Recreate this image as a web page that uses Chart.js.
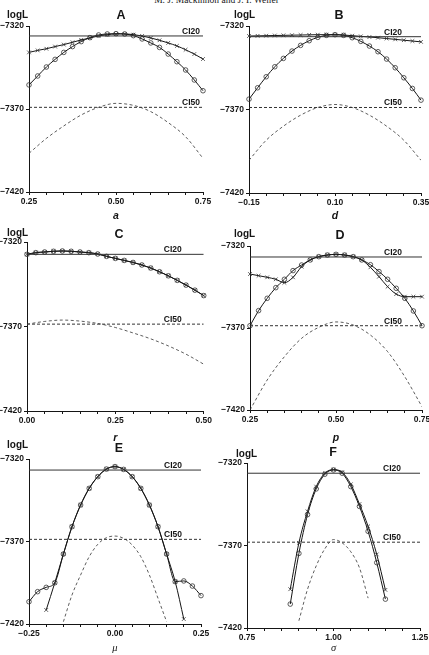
<!DOCTYPE html>
<html>
<head>
<meta charset="utf-8">
<script src="https://cdn.jsdelivr.net/npm/chart.js@4.4.1/dist/chart.umd.min.js"></script>
<style>
  html, body { margin: 0; padding: 0; background: #fff; overflow: hidden; }
  body { width: 429px; height: 655px; position: relative; }
  canvas { position: absolute; }
  #head { position: absolute; left: 0; top: -4px; width: 433px; text-align: center;
          font-family: 'Liberation Serif', 'DejaVu Serif', serif; font-size: 9.5px; line-height: 1; color: #222; }
</style>
</head>
<body>
<div id="head">M. J. Mackinnon and J. I. Weller</div>
<canvas id="pA"></canvas>
<canvas id="pB"></canvas>
<canvas id="pC"></canvas>
<canvas id="pD"></canvas>
<canvas id="pE"></canvas>
<canvas id="pF"></canvas>
<script>
// ---- data (logL profiles) ----
// A : parameter a
const aGrid = [0.25,0.275,0.3,0.325,0.35,0.375,0.4,0.425,0.45,0.475,0.5,0.525,0.55,0.575,0.6,0.625,0.65,0.675,0.7,0.725,0.75];
const aCircles = [-7355.5,-7350.1,-7344.7,-7340.1,-7335.9,-7332.4,-7329.4,-7327.0,-7325.4,-7324.8,-7324.6,-7324.8,-7325.8,-7327.8,-7330.2,-7332.9,-7336.9,-7341.5,-7346.5,-7352.5,-7359.0];
const aCrosses = [-7335.9,-7334.7,-7333.7,-7332.4,-7331.2,-7329.8,-7328.4,-7327.2,-7326.0,-7325.2,-7324.8,-7324.8,-7325.2,-7326.0,-7327.2,-7328.6,-7330.2,-7332.0,-7334.3,-7336.9,-7339.9];
const aDashGrid = [0.25,0.3,0.35,0.4,0.45,0.5,0.55,0.6,0.65,0.7,0.75];
const aDash = [-7396.7,-7387.7,-7380.2,-7373.6,-7369.0,-7366.6,-7367.8,-7371.6,-7378.2,-7386.7,-7399.7];
const aLevels = [-7326.0, -7369.0];   // CI20, CI50

// B : parameter d
const bGrid = [-0.15,-0.125,-0.1,-0.075,-0.05,-0.025,0,0.025,0.05,0.075,0.1,0.125,0.15,0.175,0.2,0.225,0.25,0.275,0.3,0.325,0.35];
const bCircles = [-7363.8,-7357.0,-7350.4,-7344.4,-7339.4,-7335.0,-7331.6,-7328.8,-7326.8,-7325.6,-7325.2,-7325.6,-7327.0,-7329.2,-7332.0,-7335.4,-7339.8,-7345.0,-7351.0,-7357.4,-7364.4];
const bCrosses = [-7326.0,-7325.9,-7325.8,-7325.7,-7325.6,-7325.5,-7325.4,-7325.3,-7325.2,-7325.2,-7325.2,-7325.4,-7325.8,-7326.2,-7326.6,-7327.0,-7327.5,-7328.0,-7328.5,-7329.0,-7329.5];
const bDashGrid = [-0.15,-0.1,-0.05,0,0.05,0.1,0.15,0.2,0.25,0.3,0.35];
const bDash = [-7400.4,-7388.4,-7380.0,-7373.4,-7368.8,-7367.0,-7368.8,-7373.4,-7380.0,-7388.4,-7400.4];
const bLevels = [-7326.4, -7368.8];

// C : parameter r
const cGrid = [0,0.025,0.05,0.075,0.1,0.125,0.15,0.175,0.2,0.225,0.25,0.275,0.3,0.325,0.35,0.375,0.4,0.425,0.45,0.475,0.5];
const cCircles = [-7327.3,-7326.3,-7325.9,-7325.5,-7325.3,-7325.5,-7325.9,-7326.3,-7327.1,-7328.5,-7329.7,-7330.9,-7332.1,-7333.6,-7335.4,-7337.6,-7340.0,-7342.7,-7345.5,-7348.5,-7351.7];
const cCrosses = [-7327.3,-7326.3,-7325.9,-7325.5,-7325.3,-7325.5,-7325.9,-7326.3,-7327.1,-7328.5,-7329.7,-7330.9,-7332.1,-7333.6,-7335.4,-7337.6,-7340.0,-7342.7,-7345.5,-7348.5,-7351.7];
const cDashGrid = [0,0.05,0.1,0.15,0.2,0.25,0.3,0.35,0.4,0.45,0.5];
const cDash = [-7368.6,-7367.0,-7366.2,-7366.8,-7368.2,-7370.6,-7373.8,-7377.3,-7381.5,-7386.4,-7392.3];
const cLevels = [-7327.3, -7368.6];

// D : parameter p
const dGrid = [0.25,0.275,0.3,0.325,0.35,0.375,0.4,0.425,0.45,0.475,0.5,0.525,0.55,0.575,0.6,0.625,0.65,0.675,0.7,0.725,0.75];
const dCircles = [-7368.6,-7359.4,-7351.9,-7345.4,-7340.3,-7335.0,-7331.6,-7328.5,-7326.5,-7325.5,-7325.1,-7325.5,-7326.5,-7328.5,-7331.4,-7335.6,-7340.3,-7345.8,-7351.9,-7359.6,-7368.6];
const dCrosses = [-7337.1,-7338.1,-7339.1,-7340.3,-7342.4,-7339.1,-7332.6,-7328.5,-7326.5,-7325.5,-7325.1,-7325.5,-7326.5,-7328.5,-7333.0,-7338.7,-7344.8,-7349.3,-7350.9,-7350.9,-7350.9];
const dDashGrid = [0.25,0.3,0.35,0.4,0.45,0.5,0.55,0.6,0.65,0.7,0.75];
const dDash = [-7420.0,-7401.7,-7387.5,-7376.3,-7369.6,-7366.3,-7368.2,-7374.3,-7384.4,-7399.7,-7418.0];
const dLevels = [-7326.7, -7368.6];

// E : parameter mu
const eGrid = [-0.25,-0.225,-0.2,-0.175,-0.15,-0.125,-0.1,-0.075,-0.05,-0.025,0,0.025,0.05,0.075,0.1,0.125,0.15,0.175,0.2,0.225,0.25];
const eCircles = [-7406.5,-7400.4,-7397.8,-7395.0,-7377.6,-7361.0,-7347.9,-7337.8,-7330.7,-7326.1,-7324.6,-7326.3,-7330.7,-7337.8,-7347.9,-7361.0,-7377.6,-7394.3,-7393.9,-7397.0,-7402.8];
const eCrossGrid = [-0.2,-0.175,-0.15,-0.125,-0.1,-0.075,-0.05,-0.025,0,0.025,0.05,0.075,0.1,0.125,0.15,0.175,0.2];
const eCrosses = [-7411.5,-7395.0,-7377.6,-7361.0,-7347.9,-7337.8,-7330.7,-7326.1,-7324.6,-7326.3,-7330.7,-7337.8,-7347.9,-7361.0,-7377.6,-7394.3,-7417.0];
const eDashGrid = [-0.15,-0.125,-0.1,-0.075,-0.05,-0.025,0,0.025,0.05,0.075,0.1,0.125,0.15];
const eDash = [-7418.6,-7402.4,-7390.3,-7379.2,-7371.7,-7367.7,-7366.7,-7368.1,-7372.1,-7379.2,-7390.3,-7404.4,-7418.6];
const eLevels = [-7326.7, -7368.7];

// F : parameter sigma
const fGrid = [0.875,0.9,0.925,0.95,0.975,1.0,1.025,1.05,1.075,1.1,1.125,1.15];
const fCircles = [-7405.5,-7374.8,-7351.3,-7335.7,-7326.8,-7324.2,-7326.2,-7334.3,-7346.3,-7361.4,-7380.4,-7402.5];
const fCrosses = [-7396.5,-7368.4,-7349.3,-7334.3,-7326.2,-7324.0,-7325.6,-7332.9,-7344.9,-7358.4,-7375.4,-7396.9];
const fDashGrid = [0.9,0.925,0.95,0.975,1.0,1.025,1.05,1.075,1.1];
const fDash = [-7415.6,-7396.5,-7382.4,-7372.0,-7366.4,-7368.4,-7373.8,-7383.5,-7401.9];
const fLevels = [-7326.2, -7368.0];

const yTicks = [-7420, -7370, -7320];

// ---- drawing ----
const FONT = "'Liberation Sans Narrow', 'Liberation Sans', Arial, sans-serif";
const INK = '#151515';

function pts(xs, ys) {
    return xs.map((x, i) => ({ x: x, y: ys[i] }));
}

function fmt(v, dec) {
    const s = Math.abs(v).toFixed(dec);
    return v < -1e-9 ? '\u2212' + s : s;
}

// texte des panneaux : logL, lettre, CI20 / CI50
const panelText = {
    id: 'panelText',
    afterDraw(chart, args, o) {
        const ctx = chart.ctx;
        const ys = chart.scales.y;
        const right = chart.chartArea.right;
        ctx.save();
        ctx.fillStyle = INK;
        ctx.textBaseline = 'middle';
        ctx.textAlign = 'left';
        ctx.font = "bold 10px 'Liberation Sans', Arial, sans-serif";
        ctx.fillText('logL', o.logX, o.logY);
        ctx.textAlign = 'center';
        ctx.font = "bold 12.5px 'Liberation Sans', Arial, sans-serif";
        ctx.fillText(o.letter, o.letterX, o.letterY);
        ctx.textAlign = 'right';
        ctx.textBaseline = 'alphabetic';
        ctx.font = "bold 8.5px " + FONT;
        ctx.fillText('CI20', right - o.ciDx, ys.getPixelForValue(o.levels[0]) - 2);
        ctx.fillText('CI50', right - o.ciDx, ys.getPixelForValue(o.levels[1]) - 2);
        ctx.restore();
    }
};

function makePanel(p) {
    const cv = document.getElementById(p.id);
    cv.width = p.w; cv.height = p.h;
    cv.style.left = p.left + 'px'; cv.style.top = p.top + 'px';
    cv.style.width = p.w + 'px'; cv.style.height = p.h + 'px';

    const lineStyle = { borderColor: INK, borderWidth: 1, pointBorderColor: '#333', pointBackgroundColor: 'rgba(0,0,0,0)',
        pointBorderWidth: 0.8, cubicInterpolationMode: 'monotone', showLine: true, clip: 6 };

    const datasets = [
        { data: pts([p.min, p.max], [p.levels[0], p.levels[0]]), borderColor: '#333', borderWidth: 1, pointRadius: 0, showLine: true },
        { data: pts([p.min, p.max], [p.levels[1], p.levels[1]]), borderColor: '#333', borderWidth: 1, borderDash: [3, 2], pointRadius: 0, showLine: true },
        { data: pts(p.dashX, p.dash), borderColor: '#333', borderWidth: 0.8, borderDash: [3, 2.5], pointRadius: 0, showLine: true, cubicInterpolationMode: 'monotone' },
        Object.assign({ data: pts(p.crossX, p.crosses), pointStyle: 'crossRot', pointRadius: 2.6 }, lineStyle),
        Object.assign({ data: pts(p.circleX, p.circles), pointStyle: 'circle', pointRadius: 2.3 }, lineStyle)
    ];

    new Chart(cv.getContext('2d'), {
        type: 'scatter',
        data: { datasets: datasets },
        options: {
            responsive: false,
            animation: false,
            events: [],
            layout: { padding: { left: 0, top: p.padT, right: p.w - p.plotR, bottom: 0 } },
            plugins: {
                legend: { display: false },
                tooltip: { enabled: false },
                panelText: { letter: p.letter, letterX: p.letterX - p.left, letterY: p.letterY - p.top,
                             logX: p.logX - p.left, logY: p.logY - p.top, levels: p.levels, ciDx: p.ciDx }
            },
            scales: {
                x: {
                    type: 'linear', min: p.min, max: p.max,
                    border: { color: INK, width: 1 },
                    grid: { drawOnChartArea: false, tickLength: 3, color: INK },
                    ticks: {
                        stepSize: 0.05, autoSkip: false, maxRotation: 0, padding: 2, color: INK,
                        font: { family: FONT, size: 8.5, weight: 'bold' },
                        callback: (v, i) => (i % 5 === 0 ? fmt(v, 2) : '')
                    },
                    title: { display: true, text: p.xTitle, color: INK, padding: 0,
                             font: { family: p.titleFont, size: 10.5, style: 'italic', weight: p.titleWeight } },
                    afterFit: s => { s.height = p.h - p.plotB; }
                },
                y: {
                    min: yTicks[0], max: yTicks[2],
                    border: { color: INK, width: 1 },
                    grid: { drawOnChartArea: false, tickLength: 3, color: INK },
                    ticks: {
                        stepSize: yTicks[1] - yTicks[0], padding: 2, color: INK,
                        font: { family: FONT, size: 8.5, weight: 'bold' },
                        callback: v => fmt(v, 0)
                    },
                    afterFit: s => { s.width = p.plotL; }
                }
            }
        },
        plugins: [panelText]
    });
}

const SANS = "'Liberation Sans', Arial, sans-serif";
const SERIF = "'Liberation Serif', 'DejaVu Serif', serif";

// positions des panneaux (coordonnées de page), plot = zone du tracé relative au canvas
const panels = [
    { id: 'pA', left: 0, top: 0, w: 214, h: 222, plotL: 29, padT: 26, plotR: 203, plotB: 192,
      min: 0.25, max: 0.75, xTitle: 'a', titleFont: SANS, titleWeight: 'bold',
      circleX: aGrid, circles: aCircles, crossX: aGrid, crosses: aCrosses, dashX: aDashGrid, dash: aDash, levels: aLevels,
      letter: 'A', letterX: 121, letterY: 16, logX: 7, logY: 15, ciDx: 3 },
    { id: 'pB', left: 214, top: 0, w: 222, h: 222, plotL: 35, padT: 26, plotR: 207, plotB: 193,
      min: -0.15, max: 0.35, xTitle: 'd', titleFont: SANS, titleWeight: 'bold',
      circleX: bGrid, circles: bCircles, crossX: bGrid, crosses: bCrosses, dashX: bDashGrid, dash: bDash, levels: bLevels,
      letter: 'B', letterX: 339, letterY: 16, logX: 234, logY: 15, ciDx: 19 },
    { id: 'pC', left: 0, top: 222, w: 214, h: 222, plotL: 27, padT: 20, plotR: 204, plotB: 189,
      min: 0, max: 0.5, xTitle: 'r', titleFont: SANS, titleWeight: 'bold',
      circleX: cGrid, circles: cCircles, crossX: cGrid, crosses: cCrosses, dashX: cDashGrid, dash: cDash, levels: cLevels,
      letter: 'C', letterX: 119, letterY: 235, logX: 7, logY: 233, ciDx: 22 },
    { id: 'pD', left: 214, top: 222, w: 222, h: 222, plotL: 36, padT: 24, plotR: 208, plotB: 188,
      min: 0.25, max: 0.75, xTitle: 'p', titleFont: SANS, titleWeight: 'bold',
      circleX: dGrid, circles: dCircles, crossX: dGrid, crosses: dCrosses, dashX: dDashGrid, dash: dDash, levels: dLevels,
      letter: 'D', letterX: 340, letterY: 236, logX: 234, logY: 234, ciDx: 20 },
    { id: 'pE', left: 0, top: 432, w: 214, h: 223, plotL: 29, padT: 27, plotR: 201, plotB: 192,
      min: -0.25, max: 0.25, xTitle: '\u03bc', titleFont: SERIF, titleWeight: 'normal',
      circleX: eGrid, circles: eCircles, crossX: eCrossGrid, crosses: eCrosses, dashX: eDashGrid, dash: eDash, levels: eLevels,
      letter: 'E', letterX: 119, letterY: 449, logX: 7, logY: 445, ciDx: 19 },
    { id: 'pF', left: 214, top: 432, w: 222, h: 223, plotL: 33, padT: 31, plotR: 206, plotB: 196,
      min: 0.75, max: 1.25, xTitle: '\u03c3', titleFont: SERIF, titleWeight: 'normal',
      circleX: fGrid, circles: fCircles, crossX: fGrid, crosses: fCrosses, dashX: fDashGrid, dash: fDash, levels: fLevels,
      letter: 'F', letterX: 333, letterY: 453, logX: 236, logY: 454, ciDx: 19 }
];

panels.forEach(makePanel);
</script>
</body>
</html>
